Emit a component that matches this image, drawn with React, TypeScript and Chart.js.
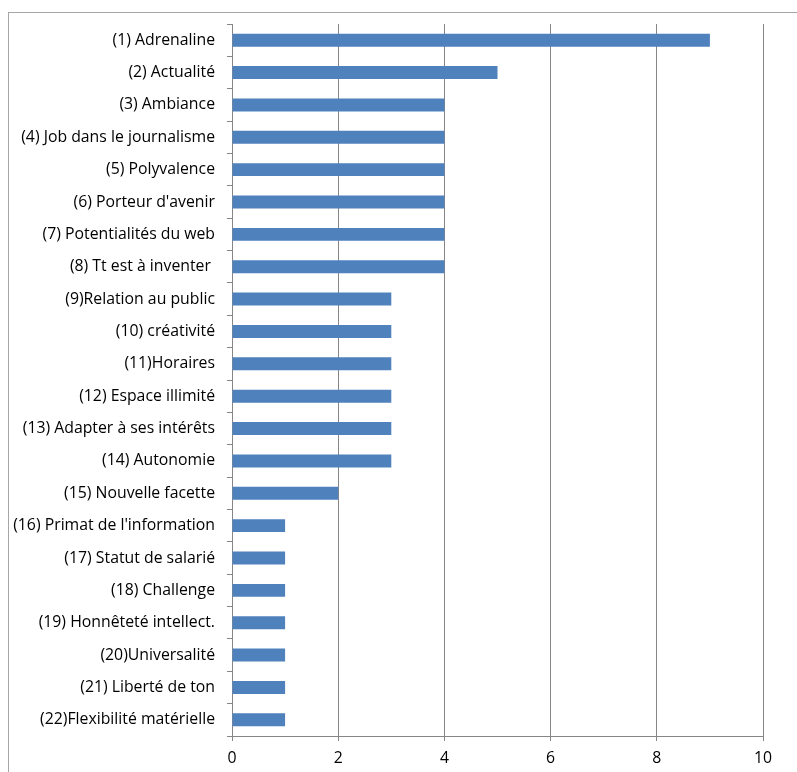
import React, { useEffect, useRef } from "react";
import { Chart, registerables } from "chart.js";

Chart.register(...registerables);

const categories: string[] = [
  "(1) Adrenaline",
  "(2) Actualité",
  "(3) Ambiance",
  "(4) Job dans le journalisme",
  "(5) Polyvalence",
  "(6) Porteur d'avenir",
  "(7) Potentialités du web",
  "(8) Tt est à inventer ",
  "(9)Relation au public",
  "(10) créativité",
  "(11)Horaires",
  "(12) Espace illimité",
  "(13) Adapter à ses intérêts",
  "(14) Autonomie",
  "(15) Nouvelle facette",
  "(16) Primat de l'information",
  "(17) Statut de salarié",
  "(18) Challenge",
  "(19) Honnêteté intellect.",
  "(20)Universalité",
  "(21) Liberté de ton",
  "(22)Flexibilité matérielle",
];

const values: number[] = [9, 5, 4, 4, 4, 4, 4, 4, 3, 3, 3, 3, 3, 3, 2, 1, 1, 1, 1, 1, 1, 1];

const xMin = 0;
const xMax = 10;
const xStep = 2;

export default function App() {
  const ref = useRef<HTMLCanvasElement>(null);

  useEffect(() => {
    if (!ref.current) return;
    const font = { family: "'Open Sans', sans-serif", size: 15.8 };
    const chart = new Chart(ref.current, {
      type: "bar",
      data: {
        labels: categories,
        datasets: [
          {
            data: values,
            backgroundColor: "#4F81BD",
            borderWidth: 0,
            barPercentage: 0.4,
            categoryPercentage: 1,
          },
        ],
      },
      options: {
        indexAxis: "y",
        animation: false,
        responsive: false,
        maintainAspectRatio: false,
        layout: { padding: { top: 24, right: 34, bottom: 0, left: 0 } },
        plugins: { legend: { display: false }, tooltip: { enabled: false } },
        scales: {
          x: {
            min: xMin,
            max: xMax,
            ticks: { stepSize: xStep, color: "#000", font, padding: 8 },
            grid: { color: "#868686", lineWidth: 1, tickLength: 5, drawTicks: true },
            border: { color: "#868686" },
            afterFit: (s: any) => {
              s.height = 36;
            },
          },
          y: {
            ticks: { color: "#000", font, padding: 12, autoSkip: false },
            grid: { drawOnChartArea: false, drawTicks: true, tickLength: 5, color: "#868686", offset: true },
            border: { color: "#868686" },
            afterFit: (s: any) => {
              s.width = 232;
            },
          },
        },
      },
    });
    return () => chart.destroy();
  }, []);

  return (
    <div style={{ position: "fixed", left: 0, top: 0, width: 797, height: 772, overflow: "hidden", background: "#fff" }}>
      <div
        style={{
          position: "absolute",
          left: 8,
          top: 12,
          width: 900,
          height: 900,
          border: "1px solid #a6a6a6",
          boxSizing: "border-box",
        }}
      />
      <canvas ref={ref} width={797} height={772} style={{ position: "absolute", left: 0, top: 0 }} />
    </div>
  );
}
